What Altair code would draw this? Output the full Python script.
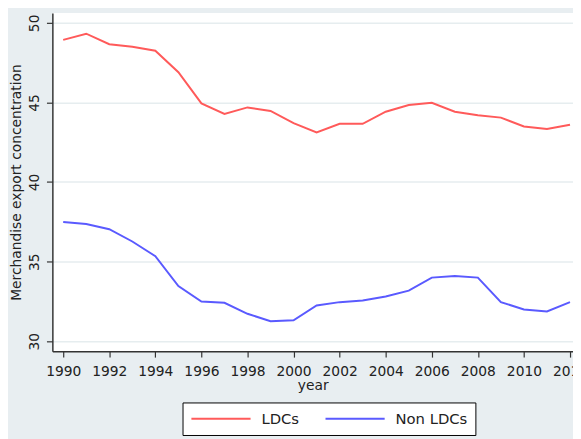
import altair as alt
import pandas as pd

years = list(range(1990, 2013))
ldcs = [48.93, 49.32, 48.66, 48.5, 48.25, 46.9, 44.94, 44.28, 44.69, 44.47, 43.7, 43.12,
        43.66, 43.66, 44.42, 44.84, 44.98, 44.42, 44.2, 44.05, 43.49, 43.33, 43.6]
non_ldcs = [37.5, 37.37, 37.04, 36.27, 35.35, 33.47, 32.5, 32.42, 31.73, 31.26, 31.32, 32.25,
            32.46, 32.56, 32.81, 33.18, 34.0, 34.1, 34.0, 32.46, 32.0, 31.88, 32.46]
groups = ["LDCs", "Non LDCs"]
colors = ["#ff5a5a", "#5a5aff"]
x_ticks = list(range(1990, 2013, 2))
y_ticks = [30, 35, 40, 45, 50]

df = pd.concat([
    pd.DataFrame({"year": years, "value": ldcs, "group": groups[0]}),
    pd.DataFrame({"year": years, "value": non_ldcs, "group": groups[1]}),
])

FONT = "DejaVu Sans"

chart = alt.Chart(df).mark_line(strokeWidth=2, clip=True).encode(
    x=alt.X("year:Q", scale=alt.Scale(domain=[1989.53, 2012.13], nice=False, zero=False),
            axis=alt.Axis(values=x_ticks, format="d", title="year", grid=False,
                          labelFont=FONT, labelFontSize=14, labelColor="#222",
                          labelPadding=8, tickSize=6, tickColor="#333", tickWidth=1.2,
                          domainColor="#333", domainWidth=1.5,
                          titleFont=FONT, titleFontSize=14, titleFontWeight="normal",
                          titleColor="#222", titlePadding=0)),
    y=alt.Y("value:Q", scale=alt.Scale(domain=[29.38, 50.62], nice=False, zero=False),
            axis=alt.Axis(values=y_ticks, title="Merchandise export concentration",
                          grid=True, gridColor="#e6edef", gridWidth=1.5,
                          labelAngle=270, labelAlign="center", labelBaseline="bottom",
                          labelFont=FONT, labelFontSize=14, labelColor="#222",
                          labelPadding=5, tickSize=6, tickColor="#333", tickWidth=1.2,
                          domainColor="#333", domainWidth=1.5,
                          titleFont=FONT, titleFontSize=14, titleFontWeight="normal",
                          titleColor="#222", titlePadding=4)),
    color=alt.Color("group:N", scale=alt.Scale(domain=groups, range=colors),
                    legend=alt.Legend(orient="none", legendX=132, legendY=395,
                                      direction="horizontal", title=None,
                                      symbolType="stroke", symbolSize=3600,
                                      symbolStrokeWidth=2, clipHeight=17, padding=8,
                                      strokeColor="black", fillColor="white",
                                      labelFont=FONT, labelFontSize=15, labelColor="#222",
                                      labelOffset=10, columnPadding=25)),
).properties(
    width=528, height=343,
    background="#e8eef1",
    padding={"left": 45, "top": 2, "right": 0, "bottom": 86},
    autosize=alt.AutoSizeParams(type="none"),
).configure_view(fill="white", stroke=None)

chart.save("out.html", embed_options={"renderer": "svg", "actions": False})
